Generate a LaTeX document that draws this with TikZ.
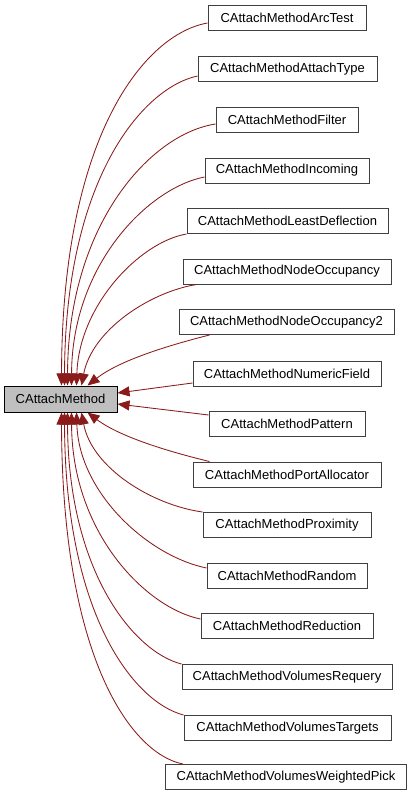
\documentclass[tikz,border=0pt]{standalone}
\usepackage{fontspec}
\setmainfont{Liberation Sans}
\usetikzlibrary{arrows.meta}
\definecolor{edgered}{HTML}{8B1A1A}
\definecolor{boxline}{HTML}{404040}
\definecolor{parentfill}{HTML}{BFBFBF}
\begin{document}
\begin{tikzpicture}[x=1pt,y=-1pt,
  cls/.style={draw=boxline, line width=1pt, fill=white, inner sep=0pt,
    minimum height=25pt, font=\fontsize{13}{15}\selectfont, anchor=center},
  parent/.style={cls, fill=parentfill, draw=black},
  edge/.style={draw=edgered, line width=0.85pt, -{Triangle[length=12pt,width=10pt]}}]
\useasboundingbox (0,0) rectangle (415,797);
\fill[white] (0,0) rectangle (415,797);

\node[parent, minimum width=113pt, minimum height=26pt] (p) at (60.5,399) {CAttachMethod};

\node[cls, minimum width=158pt] (n0)  at (287,18)    {CAttachMethodArcTest};
\node[cls, minimum width=179pt] (n1)  at (287.5,69.5) {CAttachMethodAttachType};
\node[cls, minimum width=142pt] (n2)  at (287,120)   {CAttachMethodFilter};
\node[cls, minimum width=164pt] (n3)  at (287,170.5) {CAttachMethodIncoming};
\node[cls, minimum width=201pt] (n4)  at (287.5,221) {CAttachMethodLeastDeflection};
\node[cls, minimum width=208pt] (n5)  at (287,271.5) {CAttachMethodNodeOccupancy};
\node[cls, minimum width=215pt] (n6)  at (286.5,322) {CAttachMethodNodeOccupancy2};
\node[cls, minimum width=188pt] (n7)  at (287,373.5) {CAttachMethodNumericField};
\node[cls, minimum width=156pt] (n8)  at (287,424)   {CAttachMethodPattern};
\node[cls, minimum width=188pt] (n9)  at (287,474.5) {CAttachMethodPortAllocator};
\node[cls, minimum width=168pt] (n10) at (287,525)   {CAttachMethodProximity};
\node[cls, minimum width=160pt] (n11) at (287,575.5) {CAttachMethodRandom};
\node[cls, minimum width=172pt] (n12) at (287,626)   {CAttachMethodReduction};
\node[cls, minimum width=210pt] (n13) at (287,677)   {CAttachMethodVolumesRequery};
\node[cls, minimum width=207pt] (n14) at (287.5,728) {CAttachMethodVolumesTargets};
\node[cls, minimum width=241pt] (n15) at (286,777)   {CAttachMethodVolumesWeightedPick};

% upper group
\draw[edge] ([yshift=-5pt]n0.west)   .. controls (145,34)  and (62,135) .. ([xshift=58pt]p.north west);
\draw[edge] ([yshift=-6.5pt]n1.west) .. controls (142,88)  and (65,180) .. ([xshift=61pt]p.north west);
\draw[edge] ([yshift=-4pt]n2.west)   .. controls (150,134) and (68,225) .. ([xshift=64pt]p.north west);
\draw[edge] ([yshift=-6.5pt]n3.west) .. controls (148,188) and (72,265) .. ([xshift=68pt]p.north west);
\draw[edge] (n4.south west)          .. controls (140,242) and (79,305) .. ([xshift=73pt]p.north west);
\draw[edge] ([xshift=14pt]n5.south west) .. controls (150,292) and (92,330) .. ([xshift=78pt]p.north west);
\draw[edge] ([xshift=31pt]n6.south west) .. controls (170,345) and (120,360) .. ([xshift=84pt]p.north west);
\draw[edge] ([yshift=-9.5pt]n7.west) -- ([yshift=6pt]p.east);
\draw[edge] ([yshift=9pt]n8.west)    -- ([yshift=-5pt]p.east);
% lower group
\draw[edge] ([xshift=17pt]n9.north west) .. controls (170,452) and (120,437) .. ([xshift=84pt]p.south west);
\draw[edge] (n10.north west)         .. controls (152,505) and (92,468) .. ([xshift=78pt]p.south west);
\draw[edge] ([yshift=7.5pt]n11.west) .. controls (148,556) and (79,493) .. ([xshift=73pt]p.south west);
\draw[edge] ([yshift=7pt]n12.west)   .. controls (146,608) and (72,533) .. ([xshift=68pt]p.south west);
\draw[edge] (n13.north west)         .. controls (134,652) and (68,572) .. ([xshift=64pt]p.south west);
\draw[edge] (n14.north west)         .. controls (134,702) and (65,615) .. ([xshift=61pt]p.south west);
\draw[edge] ([xshift=18pt]n15.north west) .. controls (132,754) and (62,660) .. ([xshift=58pt]p.south west);
\end{tikzpicture}
\end{document}
